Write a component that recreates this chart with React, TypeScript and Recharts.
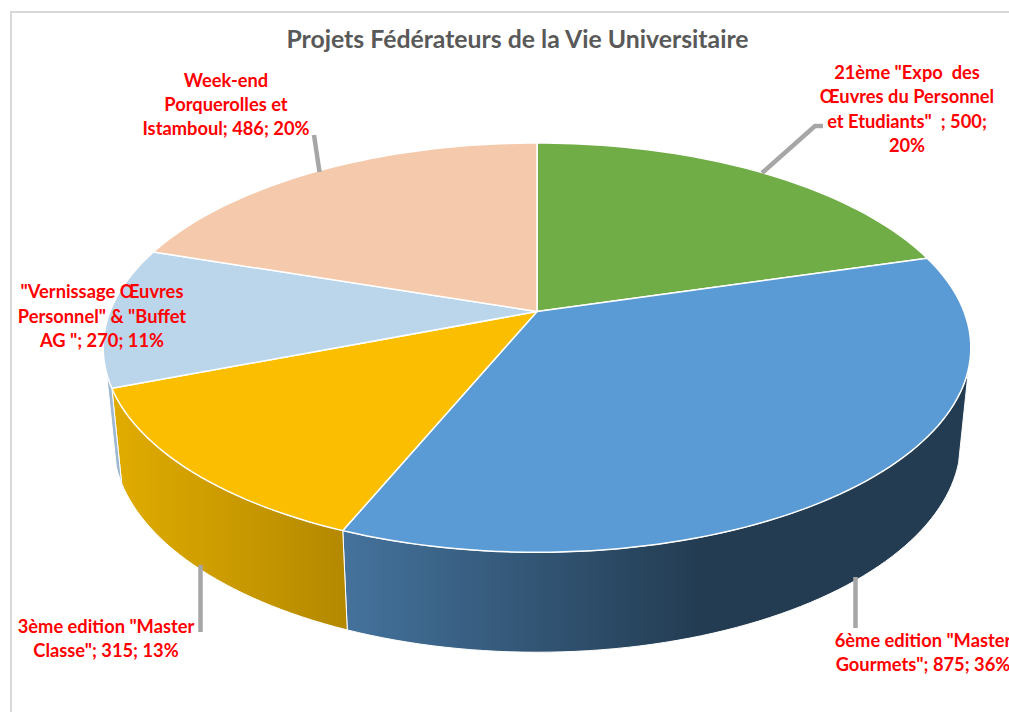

import React from 'react';
import { PieChart, Pie } from 'recharts';

const categories = [
  '21ème "Expo des Œuvres du Personnel et Etudiants"',
  '6ème edition "Master Gourmets"',
  '3ème edition "Master Classe"',
  '"Vernissage Œuvres Personnel" & "Buffet AG "',
  'Week-end Porquerolles et Istamboul',
];
const values = [500, 875, 315, 270, 486];
const topColors = ['#70AD47', '#5B9BD5', '#FBBE00', '#BBD5EB', '#F4C9AC'];
const wallFrom = ['#70AD47', '#44729C', '#DFAB00', '#9DB8D0', '#F4C9AC'];
const wallTo = ['#70AD47', '#233C52', '#B38800', '#9DB8D0', '#F4C9AC'];
const wallStops = ['0', '0.95', '1', '1', '1'];
const wallSpan = [[0, 1], [345, 720], [122, 349], [107, 123], [0, 1]];

const labelTexts = [
  ['21ème "Expo  des', 'Œuvres du Personnel', 'et Etudiants"  ; 500;', '20%'],
  ['6ème edition "Master', 'Gourmets"; 875; 36%'],
  ['3ème edition "Master', 'Classe"; 315; 13%'],
  ['"Vernissage Œuvres', 'Personnel" & "Buffet', 'AG "; 270; 11%'],
  ['Week-end', 'Porquerolles et', 'Istamboul; 486; 20%'],
];
const labelAnchors = [[907, 79], [923, 647], [106, 633], [102, 298], [226, 87]];
const labelSteps = [24.3, 23.5, 24, 24.5, 24];
const leaderLines = [
  [[762, 173], [815, 126], [823, 126]],
  [[855.5, 577], [855.5, 628]],
  [[200.5, 565], [200.5, 632]],
  [],
  [[314, 135], [319.5, 172]],
];

const tableRows = categories.map((name, i) => ({ name, value: values[i], fill: topColors[i] }));

// Perspective of the tilted disc
const CX = 537, CY = 311.5, KX = 427, KY = -143.3, PERSP = 0.1765;
const project = (deg: number) => {
  const a = (deg * Math.PI) / 180;
  const u = Math.cos(a), v = Math.sin(a);
  const d = 1 + PERSP * v;
  return [CX + (KX * u) / d, (KY * v + CY) / d];
};
const lower = (p: number[]) => [CX + 0.977 * (p[0] - CX), p[1] + 83 + 0.0307 * p[1]];
const WALL_START = -15.9, WALL_END = -163;

const arc = (from: number, to: number) => {
  const n = Math.max(2, Math.ceil(Math.abs(from - to) / 1.5));
  const pts: number[][] = [];
  for (let i = 0; i <= n; i++) pts.push(project(from + ((to - from) * i) / n));
  return pts;
};
const toPath = (pts: number[][]) =>
  pts.map((p, i) => `${i ? 'L' : 'M'}${p[0].toFixed(2)},${p[1].toFixed(2)}`).join('') + 'Z';

const Slice3D = (props: any) => {
  const i = categories.indexOf(props.name);
  const from = Math.min(props.startAngle, WALL_START);
  const to = Math.max(props.endAngle, WALL_END);
  const hasWall = from > to;
  let wall = null;
  if (hasWall) {
    const top = arc(from, to);
    const bottom = top.map(lower).reverse();
    const id = `wall-${i}`;
    wall = (
      <g>
        <defs>
          <linearGradient id={id} gradientUnits="userSpaceOnUse" x1={wallSpan[i][0]} x2={wallSpan[i][1]} y1={0} y2={0}>
            <stop offset="0" stopColor={wallFrom[i]} />
            <stop offset={wallStops[i]} stopColor={wallTo[i]} />
          </linearGradient>
        </defs>
        <path d={toPath([...top, ...bottom])} fill={`url(#${id})`} stroke="#fff" strokeWidth={1} />
      </g>
    );
  }
  return (
    <g>
      {wall}
      <path
        d={toPath([[CX, CY], ...arc(props.startAngle, props.endAngle)])}
        fill={props.fill}
        stroke="#fff"
        strokeWidth={1.5}
        strokeLinejoin="round"
      />
    </g>
  );
};

const FONT = 'Lato, "Open Sans", sans-serif';

const renderLabel = (props: any) => {
  const i = props.index;
  const [x, y] = labelAnchors[i];
  return (
    <text x={x} y={y} textAnchor="middle" fill="#FF0000" fontFamily={FONT} fontWeight={700} fontSize={18.3}>
      {labelTexts[i].map((t, k) => (
        <tspan key={k} x={x} y={y + k * labelSteps[i]} xmlSpace="preserve">{t}</tspan>
      ))}
    </text>
  );
};

const renderLine = (props: any) => {
  const pts = leaderLines[props.index];
  if (!pts.length) return <g />;
  return (
    <polyline
      points={pts.map((p) => p.join(',')).join(' ')}
      fill="none"
      stroke="#A6A6A6"
      strokeWidth={4.5}
    />
  );
};

export default function App() {
  return (
    <div style={{ position: 'absolute', left: 0, top: 0, width: 1009, height: 712, background: '#fff', overflow: 'hidden' }}>
      <PieChart width={1009} height={712} margin={{ top: 0, right: 0, bottom: 0, left: 0 }}>
        <rect x={11} y={12} width={1100} height={800} fill="#fff" stroke="#D9D9D9" strokeWidth={2} />
        <text x={517.5} y={48} textAnchor="middle" fill="#595959" fontFamily={FONT} fontWeight={700} fontSize={24.8}>
          Projets Fédérateurs de la Vie Universitaire
        </text>
        <Pie
          data={tableRows}
          dataKey="value"
          nameKey="name"
          cx={CX}
          cy={CY}
          outerRadius={168}
          startAngle={90}
          endAngle={-270}
          paddingAngle={0}
          isAnimationActive={false}
          shape={Slice3D}
          label={renderLabel}
          labelLine={renderLine}
        />
      </PieChart>
    </div>
  );
}
